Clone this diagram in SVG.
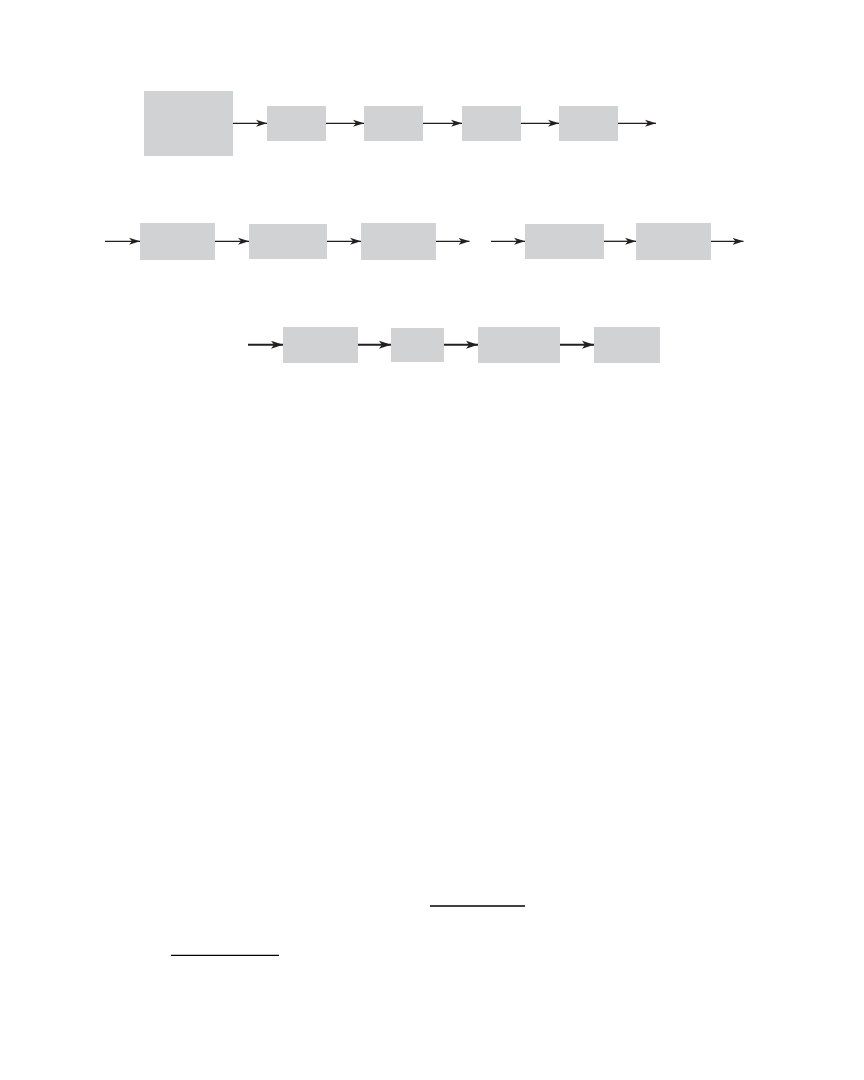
<svg xmlns="http://www.w3.org/2000/svg" width="864" height="1080" viewBox="0 0 864 1080">
<style>
.box{fill:#d1d2d4;stroke:none}
.ar{stroke:#231f20;stroke-width:1.3;fill:none;marker-end:url(#ah)}
.ar2{stroke:#231f20;stroke-width:2;fill:none;marker-end:url(#ah2)}
.rule{stroke:#000;stroke-width:1.3}
</style>
<defs>
<marker id="ah" markerUnits="userSpaceOnUse" markerWidth="12" markerHeight="8" refX="11" refY="4" orient="auto" viewBox="0 0 12 8">
<path d="M0,0.5 L11,4 L0,7.5 L3,4 Z" fill="#231f20"/>
</marker>
<marker id="ah2" markerUnits="userSpaceOnUse" markerWidth="13" markerHeight="9" refX="12" refY="4.5" orient="auto" viewBox="0 0 13 9">
<path d="M0,0.5 L12,4.5 L0,8.5 L3,4.5 Z" fill="#231f20"/>
</marker>
</defs>
<rect width="864" height="1080" fill="#fff"/>
<g id="row1">
<g id="n1"><rect class="box" x="144" y="91" width="89" height="65"/></g>
<g id="n2"><rect class="box" x="267" y="106" width="59" height="35"/></g>
<g id="n3"><rect class="box" x="364" y="106" width="59" height="35"/></g>
<g id="n4"><rect class="box" x="462" y="106" width="59" height="35"/></g>
<g id="n5"><rect class="box" x="559" y="106" width="59" height="35"/></g>
</g>
<g id="row2">
<g id="n6"><rect class="box" x="140" y="223" width="75" height="37"/></g>
<g id="n7"><rect class="box" x="249" y="224" width="78" height="35"/></g>
<g id="n8"><rect class="box" x="361" y="223" width="75" height="37"/></g>
<g id="n9"><rect class="box" x="525" y="224" width="79" height="35"/></g>
<g id="n10"><rect class="box" x="636" y="223" width="75" height="37"/></g>
</g>
<g id="row3">
<g id="n11"><rect class="box" x="283" y="327" width="75" height="36"/></g>
<g id="n12"><rect class="box" x="391" y="328" width="53" height="34"/></g>
<g id="n13"><rect class="box" x="478" y="327" width="82" height="36"/></g>
<g id="n14"><rect class="box" x="594" y="327" width="66" height="36"/></g>
</g>
<g id="connectors">
<line class="ar" x1="233" y1="123.3" x2="267" y2="123.3"/>
<line class="ar" x1="326" y1="123.3" x2="364" y2="123.3"/>
<line class="ar" x1="423" y1="123.3" x2="462" y2="123.3"/>
<line class="ar" x1="521" y1="123.3" x2="559" y2="123.3"/>
<line class="ar" x1="618" y1="123.3" x2="656" y2="123.3"/>
<line class="ar" x1="105" y1="241.3" x2="140" y2="241.3"/>
<line class="ar" x1="215" y1="241.3" x2="249" y2="241.3"/>
<line class="ar" x1="327" y1="241.3" x2="361" y2="241.3"/>
<line class="ar" x1="436" y1="241.3" x2="469.5" y2="241.3"/>
<line class="ar" x1="491" y1="241.3" x2="525" y2="241.3"/>
<line class="ar" x1="604" y1="241.3" x2="636" y2="241.3"/>
<line class="ar" x1="711" y1="241.3" x2="743.5" y2="241.3"/>
<line class="ar2" x1="248" y1="344.7" x2="283" y2="344.7"/>
<line class="ar2" x1="358" y1="344.7" x2="391" y2="344.7"/>
<line class="ar2" x1="444" y1="344.7" x2="478" y2="344.7"/>
<line class="ar2" x1="560" y1="344.7" x2="594" y2="344.7"/>
</g>
<g id="rules">
<line class="rule" x1="430" y1="906" x2="525" y2="906"/>
<line class="rule" x1="171" y1="955.3" x2="279" y2="955.3"/>
</g>
</svg>
